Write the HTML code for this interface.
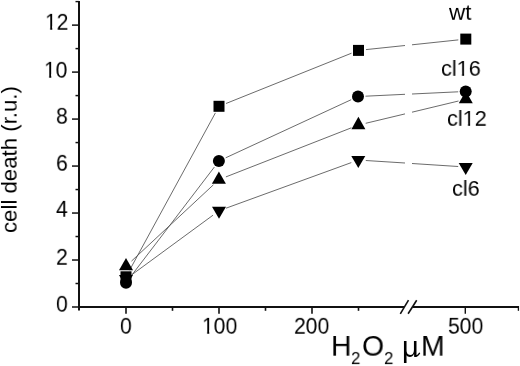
<!DOCTYPE html>
<html><head><meta charset="utf-8"><style>
*{margin:0;padding:0}
html,body{width:520px;height:366px;background:#fff;overflow:hidden}
body{position:relative;font-family:"Liberation Sans",sans-serif;color:#000}
svg{position:absolute;left:0;top:0}
.t{position:absolute;white-space:nowrap;transform-origin:0 0;will-change:transform}
.o{display:inline-block;clip-path:polygon(0 0,100% 0,100% 0.68em,0.345em 0.68em,0.345em 1.3em,0.245em 1.3em,0.245em 0.68em,0 0.68em)}
.sb{font-size:0.64em;position:relative;top:0.33em}
</style></head>
<body>
<svg width="520" height="366" viewBox="0 0 520 366">
<g stroke="#505050" stroke-width="0.85" fill="none">
<line x1="129.6" y1="270.2" x2="215.4" y2="112.9"/>
<line x1="226.0" y1="103.5" x2="351.5" y2="53.2"/>
<line x1="366.0" y1="49.6" x2="405.0" y2="45.5"/>
<line x1="412.0" y1="44.8" x2="458.3" y2="39.9"/>
<line x1="130.5" y1="276.8" x2="214.4" y2="167.0"/>
<line x1="225.7" y1="157.8" x2="351.2" y2="99.7"/>
<line x1="365.5" y1="96.2" x2="405.0" y2="94.3"/>
<line x1="412.0" y1="94.0" x2="458.2" y2="91.8"/>
<line x1="131.5" y1="261.1" x2="213.4" y2="184.8"/>
<line x1="225.9" y1="176.9" x2="351.4" y2="127.8"/>
<line x1="365.7" y1="123.3" x2="405.0" y2="113.9"/>
<line x1="412.0" y1="112.2" x2="458.5" y2="101.0"/>
<line x1="132.0" y1="274.6" x2="213.0" y2="215.2"/>
<line x1="226.0" y1="208.2" x2="351.3" y2="162.6"/>
<line x1="365.8" y1="160.5" x2="405.0" y2="163.0"/>
<line x1="412.0" y1="163.5" x2="458.2" y2="166.5"/>
</g>
<g stroke="#111" fill="none">
<line x1="79" y1="1" x2="79" y2="310.5" stroke-width="2"/>
<line x1="78" y1="307" x2="404" y2="307" stroke-width="2"/>
<line x1="413" y1="307" x2="519" y2="307" stroke-width="2"/>
<line x1="518.4" y1="306" x2="518.4" y2="310.8" stroke-width="1.3"/>
<line x1="75.5" y1="1.6" x2="79" y2="1.6" stroke-width="1.4"/>
<line x1="72" y1="307.00" x2="79" y2="307.00" stroke-width="1.5"/>
<line x1="75.5" y1="283.51" x2="79" y2="283.51" stroke-width="1.5"/>
<line x1="72" y1="260.02" x2="79" y2="260.02" stroke-width="1.5"/>
<line x1="75.5" y1="236.53" x2="79" y2="236.53" stroke-width="1.5"/>
<line x1="72" y1="213.04" x2="79" y2="213.04" stroke-width="1.5"/>
<line x1="75.5" y1="189.55" x2="79" y2="189.55" stroke-width="1.5"/>
<line x1="72" y1="166.06" x2="79" y2="166.06" stroke-width="1.5"/>
<line x1="75.5" y1="142.57" x2="79" y2="142.57" stroke-width="1.5"/>
<line x1="72" y1="119.08" x2="79" y2="119.08" stroke-width="1.5"/>
<line x1="75.5" y1="95.59" x2="79" y2="95.59" stroke-width="1.5"/>
<line x1="72" y1="72.10" x2="79" y2="72.10" stroke-width="1.5"/>
<line x1="75.5" y1="48.61" x2="79" y2="48.61" stroke-width="1.5"/>
<line x1="72" y1="25.12" x2="79" y2="25.12" stroke-width="1.5"/>
<line x1="126.00" y1="307" x2="126.00" y2="313.8" stroke-width="1.6"/>
<line x1="172.50" y1="307" x2="172.50" y2="310.8" stroke-width="1.6"/>
<line x1="219.00" y1="307" x2="219.00" y2="313.8" stroke-width="1.6"/>
<line x1="265.50" y1="307" x2="265.50" y2="310.8" stroke-width="1.6"/>
<line x1="312.00" y1="307" x2="312.00" y2="313.8" stroke-width="1.6"/>
<line x1="358.50" y1="307" x2="358.50" y2="310.8" stroke-width="1.6"/>
<line x1="465.3" y1="307" x2="465.3" y2="313.8" stroke-width="1.4"/>
<line x1="400.3" y1="313.8" x2="408.5" y2="300.2" stroke-width="1.6"/>
<line x1="408.1" y1="313.8" x2="416.7" y2="300.2" stroke-width="1.6"/>
</g>
<g fill="#000">
<polygon points="119.00,275.00 133.00,275.00 126.00,287.00"/>
<polygon points="212.00,206.80 226.00,206.80 219.00,218.80"/>
<polygon points="351.30,156.00 365.30,156.00 358.30,168.00"/>
<polygon points="458.70,163.00 472.70,163.00 465.70,175.00"/>
<circle cx="126.00" cy="282.80" r="6"/>
<circle cx="218.90" cy="161.00" r="6"/>
<circle cx="358.00" cy="96.50" r="6"/>
<circle cx="465.70" cy="91.50" r="6"/>
<rect x="120.50" y="271.30" width="11" height="11"/>
<rect x="213.50" y="100.80" width="11" height="11"/>
<rect x="353.00" y="44.90" width="11" height="11"/>
<rect x="460.30" y="33.60" width="11" height="11"/>
<polygon points="119.00,270.35 133.00,270.35 126.00,258.05"/>
<polygon points="211.90,183.75 225.90,183.75 218.90,171.45"/>
<polygon points="351.40,129.15 365.40,129.15 358.40,116.85"/>
<polygon points="458.80,103.35 472.80,103.35 465.80,91.05"/>
</g>
<path d="M415.3 355.2 Q416.6 357.2 419.4 353.4" stroke="#000" stroke-width="1.5" fill="none" stroke-linecap="round"/>
</svg>
<div class="t" id="y0" style="left:56.17px;top:293.39px;font-size:24.0px;line-height:24.0px;transform:scale(0.8799,0.9358)">0</div>
<div class="t" id="y2" style="left:55.89px;top:246.15px;font-size:24.0px;line-height:24.0px;transform:scale(0.8799,0.9358)">2</div>
<div class="t" id="y4" style="left:55.56px;top:198.20px;font-size:24.0px;line-height:24.0px;transform:scale(0.8799,0.9358)">4</div>
<div class="t" id="y6" style="left:56.23px;top:151.71px;font-size:24.0px;line-height:24.0px;transform:scale(0.8799,0.9358)">6</div>
<div class="t" id="y8" style="left:56.24px;top:105.23px;font-size:24.0px;line-height:24.0px;transform:scale(0.8799,0.9358)">8</div>
<div class="t" id="y10" style="left:43.97px;top:58.50px;font-size:24.0px;line-height:24.0px;transform:scale(0.8799,0.9358)"><span class="o">1</span>0</div>
<div class="t" id="y12" style="left:44.55px;top:10.77px;font-size:24.0px;line-height:24.0px;transform:scale(0.8799,0.9358)"><span class="o">1</span>2</div>
<div class="t" id="x0" style="left:120.17px;top:315.14px;font-size:24.0px;line-height:24.0px;transform:scale(0.8799,0.9358)">0</div>
<div class="t" id="x100" style="left:201.90px;top:314.90px;font-size:24.0px;line-height:24.0px;transform:scale(0.8799,0.9358)"><span class="o">1</span>00</div>
<div class="t" id="x200" style="left:293.51px;top:314.88px;font-size:24.0px;line-height:24.0px;transform:scale(0.8799,0.9358)">200</div>
<div class="t" id="x500" style="left:448.06px;top:314.92px;font-size:24.0px;line-height:24.0px;transform:scale(0.8799,0.9358)">500</div>
<div class="t" id="wt" style="left:448.92px;top:2.08px;font-size:22.5px;line-height:22.5px;transform:scale(0.9934,0.9876)">wt</div>
<div class="t" id="cl16" style="left:441.43px;top:58.25px;font-size:22.5px;line-height:22.5px;transform:scale(0.9636,0.9876)">cl<span class="o">1</span>6</div>
<div class="t" id="cl12" style="left:447.39px;top:108.00px;font-size:22.5px;line-height:22.5px;transform:scale(0.9636,0.9876)">cl<span class="o">1</span>2</div>
<div class="t" id="cl6" style="left:452.17px;top:178.04px;font-size:22.5px;line-height:22.5px;transform:scale(0.9636,0.9876)">cl6</div>
<div class="t" id="tH" style="left:331.33px;top:332.21px;font-size:29.0px;line-height:29.0px;transform:scale(0.9774,0.9862)">H</div>
<div class="t" id="ts1" style="left:351.14px;top:350.10px;font-size:18.0px;line-height:18.0px;transform:scale(0.9341,0.9410)">2</div>
<div class="t" id="tO" style="left:361.98px;top:332.23px;font-size:29.0px;line-height:29.0px;transform:scale(0.9774,0.9862)">O</div>
<div class="t" id="ts2" style="left:383.64px;top:350.10px;font-size:18.0px;line-height:18.0px;transform:scale(0.9341,0.9410)">2</div>
<div class="t" id="tmu" style="left:401.60px;top:332.50px;font-size:29.0px;line-height:29.0px;transform:scale(1.0000,1.0000)">&#956;</div>
<div class="t" id="tM" style="left:420.66px;top:332.23px;font-size:29.0px;line-height:29.0px;transform:scale(0.9774,0.9862)">M</div>
<div class="t" id="ytitle" style="left:-0.86px;top:233.01px;font-size:22.0px;line-height:22.0px;transform:rotate(-90deg) scale(1.0098,0.9775)">cell death (r.u.)</div>
</body></html>
